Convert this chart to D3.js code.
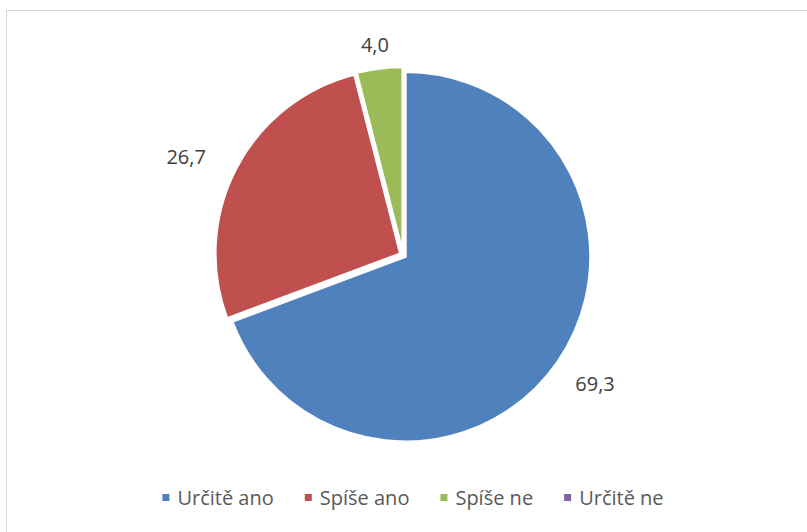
<!DOCTYPE html>
<html>
<head>
<meta charset="utf-8">
<script src="https://cdn.jsdelivr.net/npm/d3@7"></script>
<style>
  html, body { margin: 0; padding: 0; background: #fff; }
  svg { display: block; }
  text { font-family: "Open Sans", "Liberation Sans", sans-serif; }
</style>
</head>
<body>
<svg id="chart" width="807" height="532"></svg>
<script>
const categories = ["Určitě ano", "Spíše ano", "Spíše ne", "Určitě ne"];
const values = [69.3, 26.7, 4.0, 0.0];
const valueLabels = ["69,3", "26,7", "4,0", ""];
const colors = ["#4F81BD", "#C0504D", "#9BBB59", "#8064A2"];

const W = 807, H = 532;
const svg = d3.select("#chart");

svg.append("rect")
  .attr("x", 6.5).attr("y", 10.5)
  .attr("width", 840).attr("height", 560)
  .attr("fill", "#fff")
  .attr("stroke", "#d9d9d9").attr("stroke-width", 1);

const cx = 403, cy = 255, r = 185, explode = 3;

const pie = d3.pie().sort(null).value(d => d)(values);
const arc = d3.arc().innerRadius(0).outerRadius(r);

const g = svg.append("g").attr("transform", `translate(${cx},${cy})`);

pie.forEach((p, i) => {
  if (p.endAngle - p.startAngle <= 0) return;
  const mid = (p.startAngle + p.endAngle) / 2;
  const dx = Math.sin(mid) * explode, dy = -Math.cos(mid) * explode;
  g.append("path")
    .attr("d", arc(p))
    .attr("transform", `translate(${dx},${dy})`)
    .attr("fill", colors[i])
    .attr("stroke", "#fff")
    .attr("stroke-width", 2.5)
    .attr("stroke-linejoin", "miter");
});

// best-fit style label placement (angle tweak, radial distance)
const labelAdj = [-0.017, -0.056, -0.007, 0];
const labelDist = [231, 238, 212, 0];
pie.forEach((p, i) => {
  if (!valueLabels[i]) return;
  const mid = (p.startAngle + p.endAngle) / 2 + labelAdj[i];
  g.append("text")
    .attr("x", Math.sin(mid) * labelDist[i])
    .attr("y", -Math.cos(mid) * labelDist[i])
    .attr("text-anchor", "middle")
    .attr("dominant-baseline", "central")
    .attr("font-size", 20)
    .attr("fill", "#404040")
    .text(valueLabels[i]);
});

// Legend
const legend = svg.append("g");
const items = categories.map((c, i) => {
  const gi = legend.append("g");
  gi.append("rect")
    .attr("x", 0).attr("y", -3)
    .attr("width", 7).attr("height", 7)
    .attr("fill", colors[i]);
  const t = gi.append("text")
    .attr("x", 15).attr("y", 0)
    .attr("dominant-baseline", "central")
    .attr("font-size", 20)
    .attr("fill", "#595959")
    .text(c);
  return { gi, w: 15 + t.node().getComputedTextLength() };
});
const spacing = 31;
const total = d3.sum(items, d => d.w) + spacing * (items.length - 1);
let x = 413 - total / 2;
items.forEach(it => {
  it.gi.attr("transform", `translate(${x},497)`);
  x += it.w + spacing;
});
</script>
</body>
</html>
